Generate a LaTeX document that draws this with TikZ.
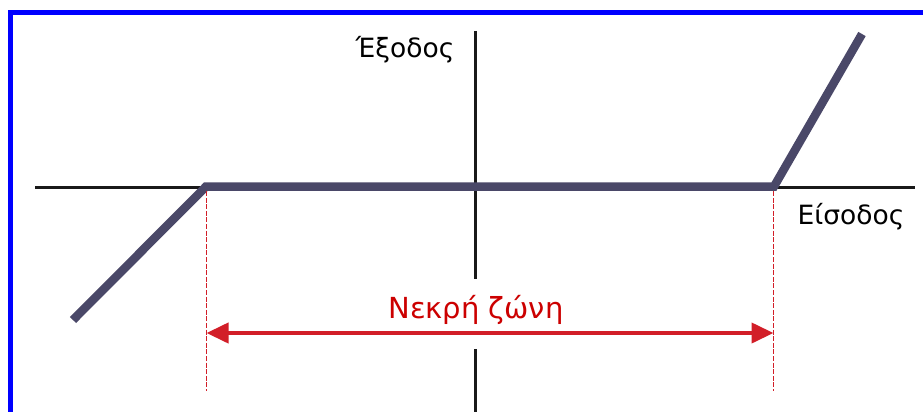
\documentclass[tikz,border=0pt]{standalone}
\usepackage{fontspec}
\setmainfont{DejaVu Sans}
\usetikzlibrary{arrows.meta}
\definecolor{frameblue}{RGB}{0,0,255}
\definecolor{curvecol}{RGB}{74,72,104}
\definecolor{zonered}{RGB}{210,30,40}
\definecolor{textred}{RGB}{204,0,0}
\tikzset{
  axisline/.style={line width=3pt, black!90},
  curveline/.style={line width=8.5pt, curvecol, line join=miter, line cap=butt},
  guide/.style={line width=1.1pt, zonered, dash pattern=on 5pt off 1.6pt},
  zonearrow/.style={line width=4pt, zonered, {Triangle[length=22pt,width=20pt]}-{Triangle[length=22pt,width=20pt]}},
  axislabel/.style={font=\fontsize{26.5}{30}\selectfont, anchor=base, inner sep=0pt},
  zonelabel/.style={font=\fontsize{29}{34}\selectfont, anchor=base, inner sep=0pt, text=textred}
}
\begin{document}
\begin{tikzpicture}[x=1pt,y=-1pt]
\useasboundingbox (0,0) rectangle (923,412);
\fill[white] (0,0) rectangle (923,412);
% frame
\draw[frameblue, line width=4.5pt, line join=miter] (930,12.5) -- (10.5,12.5) -- (10.5,420);
% axes
\coordinate (hl) at (35,187.5);
\coordinate (hr) at (915,187.5);
\coordinate (vt) at (475,31);
\coordinate (vm1) at (475,279);
\coordinate (vm2) at (475,349);
\coordinate (vb) at (475,420);
\draw[axisline] (hl) -- (hr);
\draw[axisline] (vt) -- (vm1);
\draw[axisline] (vm2) -- (vb);
% dead-zone characteristic
\coordinate (a) at (73,320);
\coordinate (b) at (206,186.5);
\coordinate (c) at (774,186.5);
\coordinate (d) at (862,34);
\draw[curveline] (a) -- (b) -- (c) -- (d);
% guides
\coordinate (g1t) at (206.5,191);
\coordinate (g1b) at (206.5,391);
\coordinate (g2t) at (773.5,191);
\coordinate (g2b) at (773.5,391);
\draw[guide] (g1t) -- (g1b);
\draw[guide] (g2t) -- (g2b);
\coordinate (al) at (206.5,333);
\coordinate (ar) at (773.5,333);
\draw[zonearrow] (al) -- (ar);
% labels
\node[axislabel] (out) at (405,58) {Έξοδος};
\node[axislabel] (in) at (851,224) {Είσοδος};
\node[zonelabel] (zone) at (476,318) {Νεκρή ζώνη};
\end{tikzpicture}
\end{document}
